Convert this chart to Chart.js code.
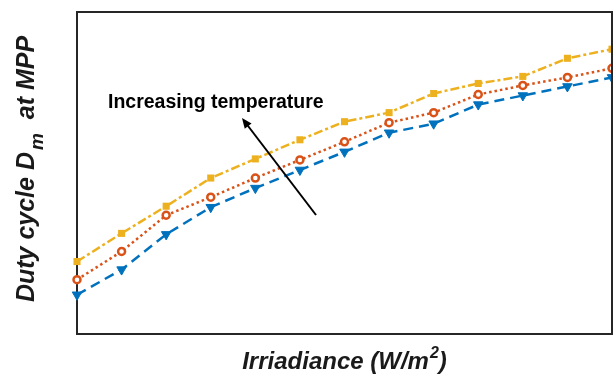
<!DOCTYPE html>
<html>
<head>
<meta charset="utf-8">
<script src="https://cdn.jsdelivr.net/npm/chart.js@4.4.1/dist/chart.umd.min.js"></script>
<style>
  html, body { margin: 0; padding: 0; background: #fff; }
  #wrap { width: 616px; height: 374px; }
</style>
</head>
<body>
<div id="wrap"><canvas id="myChart"></canvas></div>
<script>
// irradiance steps (W/m2) and duty cycle values
const irradiance = [400, 450, 500, 550, 600, 650, 700, 750, 800, 850, 900, 950, 1000];
const dutyLowT  = [0.472, 0.500, 0.527, 0.555, 0.574, 0.593, 0.611, 0.620, 0.639, 0.649, 0.656, 0.674, 0.683];
const dutyMidT  = [0.454, 0.482, 0.518, 0.536, 0.555, 0.573, 0.591, 0.610, 0.620, 0.638, 0.647, 0.655, 0.664];
const dutyHighT = [0.439, 0.464, 0.499, 0.526, 0.545, 0.563, 0.581, 0.600, 0.609, 0.628, 0.637, 0.646, 0.655];

const toPoints = (ys) => ys.map((y, i) => ({ x: irradiance[i], y: y }));

// markers spill over the left edge but are cut at the right border
const edgeClip = { left: false, top: false, right: 0, bottom: false };

// box, axis titles with sub/superscript, annotation arrow
const decor = {
    id: 'decor',
    afterDatasetsDraw(chart) {
        const ctx = chart.ctx;
        const a = chart.chartArea;
        ctx.save();
        ctx.strokeStyle = '#262626';
        ctx.lineWidth = 2;
        ctx.beginPath();
        ctx.moveTo(a.left, a.top); ctx.lineTo(a.right, a.top); ctx.lineTo(a.right, a.bottom);
        ctx.stroke();
        ctx.restore();
    },
    beforeDatasetsDraw(chart) {
        const ctx = chart.ctx;
        const a = chart.chartArea;
        ctx.save();
        ctx.strokeStyle = '#262626';
        ctx.lineWidth = 2;
        ctx.strokeRect(a.left, a.top, a.right - a.left, a.bottom - a.top);
        ctx.restore();
    },
    afterDraw(chart) {
        const ctx = chart.ctx;
        const a = chart.chartArea;
        ctx.save();
        ctx.fillStyle = '#1a1a1a';
        ctx.textBaseline = 'alphabetic';

        // x title: Irriadiance (W/m^2)
        const big = 'italic bold 24px "Liberation Sans", Arial, sans-serif';
        const small = 'italic bold 16px "Liberation Sans", Arial, sans-serif';
        ctx.font = big;
        const p1 = 'Irriadiance (W/m', p3 = ')';
        const w1 = ctx.measureText(p1).width, w3 = ctx.measureText(p3).width;
        ctx.font = small;
        const w2 = ctx.measureText('2').width + 1;
        let x = (a.left + a.right) / 2 - (w1 + w2 + w3) / 2;
        const by = 369;
        ctx.font = big; ctx.fillText(p1, x, by);
        ctx.font = small; ctx.fillText('2', x + w1 + 1, by - 11);
        ctx.font = big; ctx.fillText(p3, x + w1 + w2, by);

        // y title: Duty cycle D_m at MPP (rotated)
        const ybig = 'italic bold 25px "Liberation Sans", Arial, sans-serif';
        const ysub = 'italic bold 19px "Liberation Sans", Arial, sans-serif';
        ctx.save();
        ctx.translate(34, 169);
        ctx.rotate(-Math.PI / 2);
        const s1 = 'Duty cycle D', s3 = '  at MPP';
        ctx.font = ybig;
        const v1 = ctx.measureText(s1).width, v3 = ctx.measureText(s3).width;
        ctx.font = ysub;
        const v2 = ctx.measureText('m').width + 2;
        let t = -(v1 + v2 + v3) / 2;
        ctx.font = ybig; ctx.fillText(s1, t, 0);
        ctx.font = ysub; ctx.fillText('m', t + v1 + 2, 9);
        ctx.font = ybig; ctx.fillText(s3, t + v1 + v2, 0);
        ctx.restore();

        // annotation
        ctx.font = 'bold 19.5px "Liberation Sans", Arial, sans-serif';
        ctx.fillStyle = '#000';
        ctx.fillText('Increasing temperature', 108, 108);
        const x0 = 316, y0 = 215, x1 = 242, y1 = 118;
        ctx.strokeStyle = '#000';
        ctx.lineWidth = 2;
        ctx.beginPath(); ctx.moveTo(x0, y0); ctx.lineTo(x1 + 3, y1 + 4); ctx.stroke();
        const ang = Math.atan2(y1 - y0, x1 - x0);
        ctx.beginPath();
        ctx.moveTo(x1, y1);
        ctx.lineTo(x1 - 11 * Math.cos(ang - 0.4), y1 - 11 * Math.sin(ang - 0.4));
        ctx.lineTo(x1 - 11 * Math.cos(ang + 0.4), y1 - 11 * Math.sin(ang + 0.4));
        ctx.closePath(); ctx.fill();
        ctx.restore();
    }
};

const ctx1 = document.getElementById('myChart');

new Chart(ctx1, {
    type: 'line',
    data: {
        datasets: [{
            data: toPoints(dutyHighT),
            borderColor: '#0072BD',
            backgroundColor: '#0072BD',
            borderWidth: 2.5,
            borderDash: [10, 6],
            pointStyle: 'triangle',
            pointRotation: 180,
            pointRadius: 5.5,
            pointBorderWidth: 1,
            clip: edgeClip,
        }, {
            data: toPoints(dutyMidT),
            borderColor: '#D95319',
            backgroundColor: '#ffffff',
            borderWidth: 2.5,
            borderDash: [2.5, 3],
            pointStyle: 'circle',
            pointRadius: 3.5,
            pointBorderWidth: 2.5,
            clip: edgeClip,
        }, {
            data: toPoints(dutyLowT),
            borderColor: '#EDB120',
            backgroundColor: '#EDB120',
            borderWidth: 2.5,
            borderDash: [9, 3, 3, 3],
            pointStyle: 'rect',
            pointRadius: 5,
            pointBorderWidth: 0,
            clip: edgeClip,
        }]
    },
    options: {
        responsive: true,
        maintainAspectRatio: false,
        animation: false,
        layout: { autoPadding: false, padding: { left: 77, top: 12, right: 4, bottom: 40 } },
        plugins: { legend: { display: false }, tooltip: { enabled: false } },
        scales: {
            x: {
                type: 'linear',
                min: 400,
                max: 1000,
                ticks: { display: false },
                grid: { display: false, drawTicks: false },
                border: { display: false }
            },
            y: {
                min: 0.40,
                max: 0.72,
                ticks: { display: false },
                grid: { display: false, drawTicks: false },
                border: { display: false }
            }
        }
    },
    plugins: [decor]
});
</script>
</body>
</html>
